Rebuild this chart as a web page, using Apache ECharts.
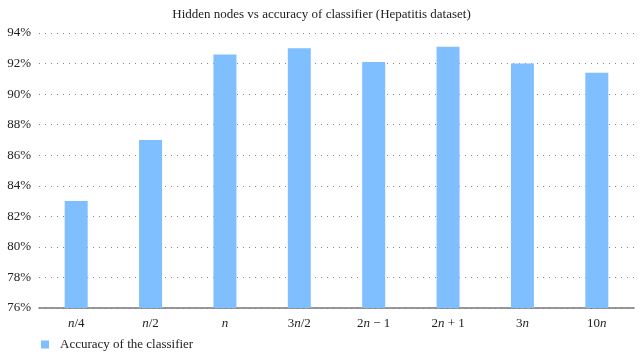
<!DOCTYPE html>
<html>
<head>
<meta charset="utf-8">
<script src="https://cdn.jsdelivr.net/npm/echarts@6/dist/echarts.min.js"></script>
<style>
html, body { margin: 0; padding: 0; background: #fff; }
#main { width: 643px; height: 360px; }
</style>
</head>
<body>
<div id="main"></div>
<script>
'use strict';

// categories (hidden nodes), rich-text marks the italic n
var categories = ['{i|n}/4', '{i|n}/2', '{i|n}', '3{i|n}/2', '2{i|n} − 1', '2{i|n} + 1', '3{i|n}', '10{i|n}'];
// accuracy values (%)
var accuracy = [83.0, 87.0, 92.6, 93.0, 92.1, 93.1, 92.0, 91.4];
var yTicks = { min: 76, max: 94, step: 2 };

var serif = '"Liberation Serif", "DejaVu Serif", serif';

var option = {
    animation: false,
    title: {
        text: 'Hidden nodes vs accuracy of classifier (Hepatitis dataset)',
        left: 'center',
        top: 3,
        textStyle: {
            fontFamily: serif,
            fontSize: 13,
            fontWeight: 'normal',
            color: '#222'
        }
    },
    legend: {
        data: ['Accuracy of the classifier'],
        left: 36,
        bottom: 4,
        icon: 'rect',
        itemWidth: 8,
        itemHeight: 8,
        itemGap: 8,
        textStyle: {
            fontFamily: serif,
            fontSize: 13,
            color: '#222',
            padding: [0, 0, 0, 6]
        }
    },
    grid: {
        left: 39,
        right: 9,
        top: 33,
        bottom: 52,
        containLabel: false
    },
    xAxis: {
        type: 'category',
        data: categories,
        axisTick: { show: false },
        axisLine: { lineStyle: { color: '#777', width: 1.5 } },
        axisLabel: {
            margin: 9,
            color: '#222',
            fontFamily: serif,
            fontSize: 13,
            rich: {
                i: { fontStyle: 'italic', fontFamily: serif, fontSize: 13, color: '#222' }
            }
        }
    },
    yAxis: {
        type: 'value',
        min: yTicks.min,
        max: yTicks.max,
        interval: yTicks.step,
        axisLine: { show: false },
        axisTick: { show: false },
        axisLabel: {
            formatter: '{value}%',
            margin: 8,
            color: '#222',
            fontFamily: serif,
            fontSize: 13
        },
        splitLine: {
            lineStyle: { color: '#888', type: [1, 5], width: 1 }
        }
    },
    series: [{
        name: 'Accuracy of the classifier',
        type: 'bar',
        data: accuracy,
        barWidth: 23,
        itemStyle: { color: '#80bfff' }
    }]
};

var myChart = echarts.init(document.getElementById('main'));
myChart.setOption(option);
</script>
</body>
</html>
